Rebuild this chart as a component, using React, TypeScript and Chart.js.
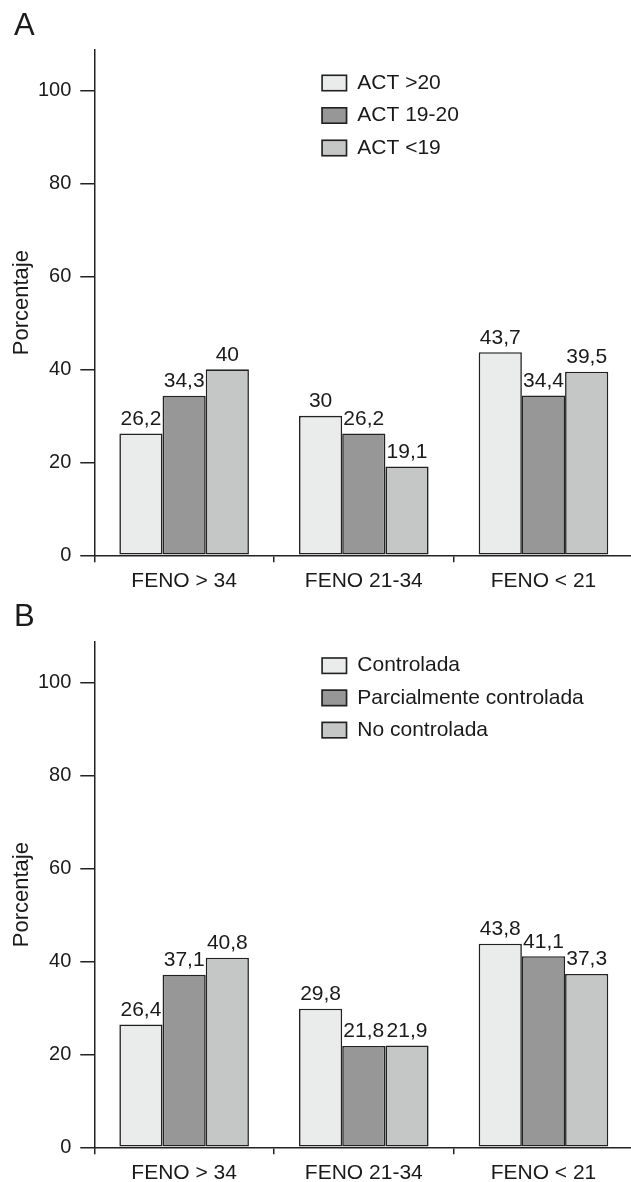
import { useEffect, useRef } from 'react';
import { Chart, registerables } from 'chart.js';

Chart.register(...registerables);

const categories = ['FENO > 34', 'FENO 21-34', 'FENO < 21'];

const labelsA = ['ACT >20', 'ACT 19-20', 'ACT <19'];
const actOver20 = [26.2, 30, 43.7];
const act19to20 = [34.3, 26.2, 34.4];
const actUnder19 = [40, 19.1, 39.5];

const labelsB = ['Controlada', 'Parcialmente controlada', 'No controlada'];
const controlada = [26.4, 29.8, 43.8];
const parcialmente = [37.1, 21.8, 41.1];
const noControlada = [40.8, 21.9, 37.3];

const yTickValues = [0, 20, 40, 60, 80, 100];
const yMax = 108.7;
const yTitle = 'Porcentaje';

const barColors = ['#eaeceb', '#979797', '#c5c7c6'];
const BORDER = '#222222';
const TEXT = '#1a1a1a';
const FONT = '"Liberation Sans", Arial, Helvetica, sans-serif';

const CANVAS_W = 640;
const CANVAS_H = 592;

const annotatePlugin = {
  id: 'annotate',
  afterDatasetsDraw(chart: any, _args: any, opts: any) {
    const ctx = chart.ctx;
    ctx.save();
    // value labels
    ctx.fillStyle = TEXT;
    ctx.font = `21px ${FONT}`;
    ctx.textAlign = 'center';
    ctx.textBaseline = 'alphabetic';
    chart.data.datasets.forEach((ds: any, i: number) => {
      const meta = chart.getDatasetMeta(i);
      meta.data.forEach((bar: any, j: number) => {
        const v = ds.data[j];
        ctx.fillText(String(v).replace('.', ','), bar.x, bar.y - 8.5);
      });
    });
    // legend
    ctx.textAlign = 'left';
    ctx.textBaseline = 'middle';
    chart.data.datasets.forEach((ds: any, i: number) => {
      const cy = opts.legendY + i * opts.legendStep;
      ctx.fillStyle = ds.backgroundColor;
      ctx.fillRect(opts.legendX, cy - 8.5, 26, 17);
      ctx.strokeStyle = BORDER;
      ctx.lineWidth = 1.6;
      ctx.strokeRect(opts.legendX + 0.8, cy - 7.7, 24.4, 15.4);
      ctx.fillStyle = TEXT;
      ctx.font = `21px ${FONT}`;
      ctx.fillText(ds.label, opts.legendX + 36, cy);
    });
    // panel letter
    ctx.font = `31px ${FONT}`;
    ctx.textBaseline = 'alphabetic';
    ctx.fillStyle = TEXT;
    ctx.fillText(opts.panel, 14, opts.panelY);
    ctx.restore();
  },
};

function makeConfig(seriesLabels: string[], series: number[][], annot: any) {
  return {
    type: 'bar' as const,
    data: {
      labels: categories,
      datasets: series.map((d, i) => ({
        label: seriesLabels[i],
        data: d,
        backgroundColor: barColors[i],
        borderColor: BORDER,
        borderWidth: 1.6,
        borderSkipped: false,
        categoryPercentage: 0.7213,
        barPercentage: 1.0,
      })),
    },
    options: {
      responsive: false,
      animation: false,
      devicePixelRatio: 1,
      layout: { padding: { top: 50, right: 6.7, left: 0, bottom: 0 } },
      plugins: {
        legend: { display: false },
        tooltip: { enabled: false },
        annotate: annot,
      },
      scales: {
        x: {
          grid: {
            display: true,
            drawOnChartArea: false,
            drawTicks: true,
            tickLength: 7,
            offset: true,
            color: BORDER,
            lineWidth: 1.5,
          },
          border: { display: true, color: BORDER, width: 1.5 },
          ticks: {
            color: TEXT,
            font: { family: FONT, size: 21 },
            padding: 6,
            maxRotation: 0,
            autoSkip: false,
          },
          afterFit(scale: any) {
            scale.height = CANVAS_H - 555.3;
          },
        },
        y: {
          min: 0,
          max: yMax,
          grid: {
            display: true,
            drawOnChartArea: false,
            drawTicks: true,
            tickLength: 14,
            color: BORDER,
            lineWidth: 1.5,
          },
          border: { display: true, color: BORDER, width: 1.5 },
          ticks: {
            color: TEXT,
            font: { family: FONT, size: 20 },
            padding: 9,
            stepSize: 20,
          },
          afterBuildTicks(scale: any) {
            scale.ticks = yTickValues.map((v) => ({ value: v }));
          },
          title: {
            display: true,
            text: yTitle,
            color: TEXT,
            font: { family: FONT, size: 22 },
            padding: { top: 9, bottom: 0 },
          },
          afterFit(scale: any) {
            scale.width = 94.3;
          },
        },
      },
    },
    plugins: [annotatePlugin],
  };
}

function Panel(props: { top: number; config: any }) {
  const ref = useRef<HTMLCanvasElement | null>(null);
  useEffect(() => {
    if (!ref.current) return;
    const chart = new Chart(ref.current, props.config);
    return () => chart.destroy();
  }, []);
  return (
    <canvas
      ref={ref}
      width={CANVAS_W}
      height={CANVAS_H}
      style={{ position: 'absolute', left: 0, top: props.top, width: CANVAS_W, height: CANVAS_H }}
    />
  );
}

export default function App() {
  const configA = makeConfig(labelsA, [actOver20, act19to20, actUnder19], {
    panel: 'A',
    panelY: 35,
    legendX: 321.3,
    legendY: 83,
    legendStep: 32.5,
  });
  const configB = makeConfig(labelsB, [controlada, parcialmente, noControlada], {
    panel: 'B',
    panelY: 34,
    legendX: 321.3,
    legendY: 73.7,
    legendStep: 32.2,
  });
  return (
    <div
      style={{
        position: 'absolute',
        left: 0,
        top: 0,
        width: 631,
        height: 1182,
        overflow: 'hidden',
        background: '#ffffff',
      }}
    >
      <Panel top={0} config={configA} />
      <Panel top={592} config={configB} />
    </div>
  );
}
